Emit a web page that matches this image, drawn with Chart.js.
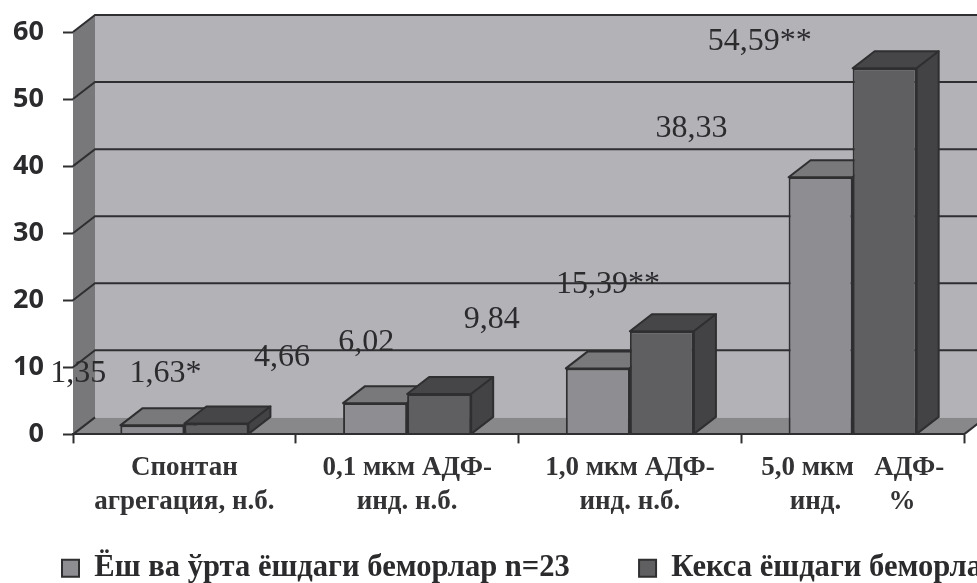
<!DOCTYPE html>
<html>
<head>
<meta charset="utf-8">
<script src="https://cdn.jsdelivr.net/npm/chart.js@4/dist/chart.umd.min.js"></script>
<style>
	html, body { margin: 0; padding: 0; background: #fff; overflow: hidden; }
	canvas { display: block; }
</style>
</head>
<body>
<canvas id="barChart" width="977" height="583"></canvas>
<script>
const categories = [
	["Спонтан", "агрегация, н.б."],
	["0,1 мкм АДФ-", "инд. н.б."],
	["1,0 мкм АДФ-", "инд. н.б."],
	["5,0 мкм   АДФ-", "инд.       %"],
];
const middleAgeValues = [1.35, 4.66, 9.84, 38.33];
const olderAgeValues = [1.63, 6.02, 15.39, 54.59];
const middleAgeTexts = ["1,35", "4,66", "9,84", "38,33"];
const olderAgeTexts = ["1,63*", "6,02", "15,39**", "54,59**"];
// the no-break spaces push the second legend entry to the right
const middleAgeName = "Ёш ва ўрта ёшдаги беморлар n=23" + "\u00A0".repeat(8);
const olderAgeName = "Кекса ёшдаги беморлар";

// Depth of the pseudo 3D box, in pixels
const DEPTH_X = 22;
const DEPTH_Y = 17;
const LINE_COLOR = "#2f2f31";

// Value captions sit away from their bars, shifted by these amounts
const captionShift = [
	[[-74, -52], [-93, -46], [-106, -49], [-129, -49]],
	[[-51, -50], [-73, -51], [-54, -47], [-125, -27]],
];
const sideColors = [
	{ top: "#79797b", side: "#5c5c5e" },
	{ top: "#464648", side: "#434345" },
];

function drawPolygon(ctx, points, fill) {
	ctx.beginPath();
	points.forEach((p, i) => (i ? ctx.lineTo(p[0], p[1]) : ctx.moveTo(p[0], p[1])));
	ctx.closePath();
	ctx.fillStyle = fill;
	ctx.fill();
}

// Back wall, side wall, floor and the grid running over them
function drawBox(chart) {
	const { ctx, chartArea: area, scales } = chart;
	const { left, right, top, bottom } = area;
	drawPolygon(ctx, [[left + DEPTH_X, top - DEPTH_Y], [right + DEPTH_X, top - DEPTH_Y], [right + DEPTH_X, bottom - DEPTH_Y], [left + DEPTH_X, bottom - DEPTH_Y]], "#b3b2b7");
	drawPolygon(ctx, [[left, top], [left + DEPTH_X, top - DEPTH_Y], [left + DEPTH_X, bottom - DEPTH_Y], [left, bottom]], "#78787a");
	drawPolygon(ctx, [[left, bottom], [left + DEPTH_X, bottom - DEPTH_Y], [right + DEPTH_X, bottom - DEPTH_Y], [right, bottom]], "#88888b");

	ctx.strokeStyle = LINE_COLOR;
	ctx.lineWidth = 2;
	scales.y.ticks.forEach((tick) => {
		const y = scales.y.getPixelForValue(tick.value);
		ctx.beginPath();
		ctx.moveTo(left, y);
		ctx.lineTo(left + DEPTH_X, y - DEPTH_Y);
		if (tick.value > 0) {
			ctx.lineTo(right + DEPTH_X, y - DEPTH_Y);
		}
		ctx.stroke();
	});
	ctx.beginPath();
	ctx.moveTo(right, bottom);
	ctx.lineTo(right + DEPTH_X, bottom - DEPTH_Y);
	ctx.stroke();
}

// Top and side of the bars, left series first so the right one overlaps it
function drawBarDepth(chart) {
	const { ctx } = chart;
	ctx.strokeStyle = LINE_COLOR;
	ctx.lineWidth = 2;
	ctx.lineJoin = "round";
	sideColors.forEach((colors, d) => {
		chart.getDatasetMeta(d).data.forEach((bar) => {
			const half = bar.width / 2;
			const x0 = bar.x - half;
			const x1 = bar.x + half;
			const top = [[x0, bar.y], [x0 + DEPTH_X, bar.y - DEPTH_Y], [x1 + DEPTH_X, bar.y - DEPTH_Y], [x1, bar.y]];
			const side = [[x1, bar.y], [x1 + DEPTH_X, bar.y - DEPTH_Y], [x1 + DEPTH_X, bar.base - DEPTH_Y], [x1, bar.base]];
			drawPolygon(ctx, top, colors.top);
			ctx.stroke();
			drawPolygon(ctx, side, colors.side);
			ctx.stroke();
		});
	});
}

const boxPlugin = {
	id: "box3d",
	beforeDatasetsDraw(chart) {
		chart.ctx.save();
		drawBox(chart);
		drawBarDepth(chart);
		chart.ctx.restore();
	},
	afterDatasetsDraw(chart) {
		const { ctx } = chart;
		const texts = [middleAgeTexts, olderAgeTexts];
		ctx.save();
		ctx.font = "32px 'Liberation Serif'";
		ctx.fillStyle = "#2b2b2d";
		ctx.textAlign = "center";
		ctx.textBaseline = "middle";
		texts.forEach((list, d) => {
			const bars = chart.getDatasetMeta(d).data;
			list.forEach((text, i) => {
				ctx.fillText(text, bars[i].x + captionShift[d][i][0], bars[i].y + captionShift[d][i][1]);
			});
		});
		ctx.restore();
	},
	afterLayout(chart) {
		// Legend starts under the axis and may run past the right edge
		chart.legend.left = 54;
		chart.legend.right = 1200;
		chart.legend.top = 545;
	},
};

new Chart("barChart", {
	type: "bar",
	data: {
		labels: categories,
		datasets: [
			{
				label: middleAgeName,
				data: middleAgeValues,
				backgroundColor: "#8e8e92",
				borderColor: LINE_COLOR,
				borderWidth: 2,
			},
			{
				label: olderAgeName,
				data: olderAgeValues,
				backgroundColor: "#5f5f61",
				borderColor: LINE_COLOR,
				borderWidth: 2,
			},
		],
	},
	options: {
		responsive: false,
		animation: false,
		categoryPercentage: 0.575,
		barPercentage: 1,
		layout: {
			padding: { top: 32, right: 13, bottom: 0, left: 0 },
		},
		plugins: {
			tooltip: { enabled: false },
			legend: {
				position: "bottom",
				align: "start",
				labels: {
					boxWidth: 17,
					boxHeight: 17,
					padding: 8,
					color: "#2b2b2d",
					font: { family: "'Liberation Serif'", size: 30.6, weight: "bold" },
				},
			},
		},
		scales: {
			x: {
				afterFit(scale) {
					scale.height = 100;
				},
				border: { color: LINE_COLOR, width: 2, z: 1 },
				grid: {
					drawOnChartArea: false,
					tickLength: 9,
					tickColor: LINE_COLOR,
					tickWidth: 2,
					z: 1,
				},
				ticks: {
					autoSkip: false,
					maxRotation: 0,
					padding: 8,
					color: "#333335",
					font: { family: "'Liberation Serif'", size: 27, weight: "bold", lineHeight: 1.25 },
				},
			},
			y: {
				min: 0,
				max: 60,
				afterFit(scale) {
					scale.width = 73;
					// the top padding option alone places the plot area
					scale.paddingTop = 0;
				},
				border: { display: false },
				grid: {
					drawOnChartArea: false,
					tickLength: 10,
					tickColor: LINE_COLOR,
					tickWidth: 2,
					z: 1,
				},
				ticks: {
					stepSize: 10,
					padding: 19,
					color: "#2b2b2d",
					font: { family: "'Open Sans'", size: 27, weight: "700" },
				},
			},
		},
	},
	plugins: [boxPlugin],
});
</script>
</body>
</html>
